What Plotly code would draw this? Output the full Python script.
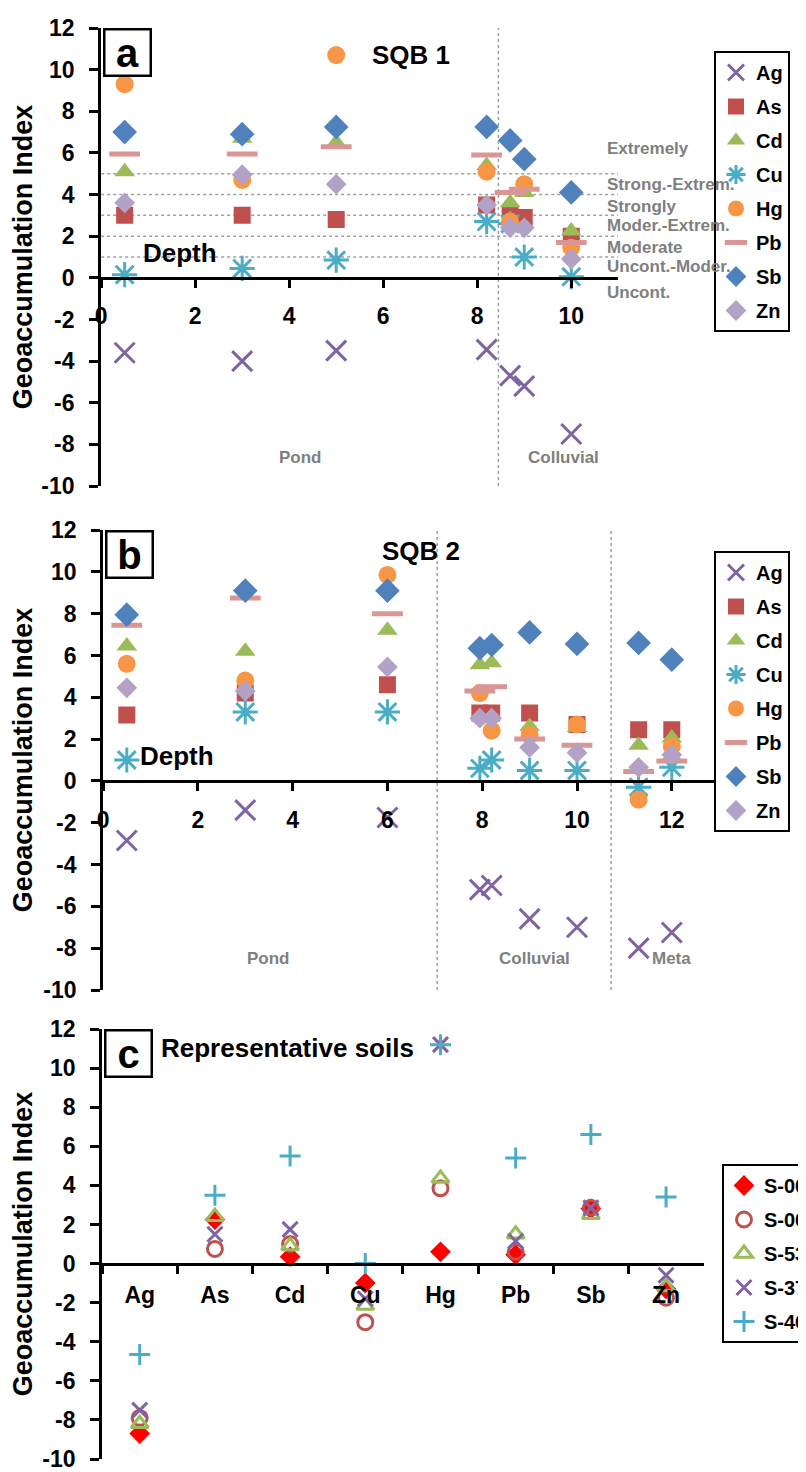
import plotly.graph_objects as go

W, H = 806, 1472
FONT = "Liberation Sans, Arial, sans-serif"

# ---------------- data ----------------
elements = ["Ag", "As", "Cd", "Cu", "Hg", "Pb", "Sb", "Zn"]

# Panel a: SQB 1
depth_a = [0.5, 3, 5, 8.2, 8.7, 9.0, 10]
ag_a = [-3.6, -4.0, -3.5, -3.45, -4.7, -5.2, -7.5]
as_a = [3.0, 3.0, 2.8, 3.5, 3.1, 2.9, 2.0]
cd_a = [5.1, 6.7, 6.5, 5.4, 3.6, 4.1, 2.25]
cu_a = [0.15, 0.45, 0.85, 2.7, 2.6, 1.0, 0.05]
hg_a = [9.3, 4.7, 10.7, 5.1, 2.7, 4.5, 1.45]
pb_a = [5.95, 5.95, 6.3, 5.9, 4.1, 4.25, 1.7]
sb_a = [7.0, 6.9, 7.25, 7.25, 6.6, 5.7, 4.1]
zn_a = [3.6, 4.95, 4.5, 3.5, 2.4, 2.4, 0.9]

# Panel b: SQB 2
depth_b = [0.5, 3, 6, 7.95, 8.2, 9, 10, 11.3, 12]
ag_b = [-2.85, -1.4, -1.75, -5.2, -5.0, -6.6, -7.0, -8.0, -7.25]
as_b = [3.15, 4.2, 4.6, 3.25, 3.25, 3.25, 2.7, 2.45, 2.45]
cd_b = [6.45, 6.2, 7.2, 5.55, 5.65, 2.6, 2.55, 1.7, 2.05]
cu_b = [1.0, 3.3, 3.3, 0.6, 1.0, 0.5, 0.5, -0.3, 0.65]
hg_b = [5.6, 4.8, 9.85, 4.2, 2.4, 2.2, 2.7, -0.9, 1.65]
pb_b = [7.45, 8.75, 8.0, 4.3, 4.5, 2.0, 1.7, 0.45, 0.95]
sb_b = [7.95, 9.1, 9.1, 6.35, 6.5, 7.1, 6.55, 6.6, 5.8]
zn_b = [4.45, 4.3, 5.45, 3.0, 3.0, 1.6, 1.35, 0.65, 1.25]

# Panel c: representative soils
soil_names = ["S-00", "S-06", "S-53", "S-37", "S-46"]
s00 = [-8.7, 2.25, 0.35, -1.0, 0.6, 0.45, 2.8, -1.3]
s06 = [-7.9, 0.75, 1.0, -3.0, 3.85, 0.6, 2.85, -1.75]
s53 = [-8.2, 2.4, 0.9, -2.15, 4.35, 1.5, 2.5, -1.2]
s37 = [-7.5, 1.5, 1.75, -1.8, 11.2, 1.15, 2.85, -0.6]
s46 = [-4.65, 3.5, 5.5, 0.0, 11.2, 5.4, 6.6, 3.4]

# Igeo classes (panel a)
class_labels = ["Extremely", "Strong.-Extrem.", "Strongly", "Moder.-Extrem.",
                "Moderate", "Uncont.-Moder.", "Uncont."]
class_label_y = [6.2, 4.5, 3.45, 2.5, 1.45, 0.55, -0.7]
class_bounds = [1, 2, 3, 4, 5]

y_ticks = list(range(-10, 13, 2))
y_ticktext = [str(v) for v in y_ticks]

# ---------------- styles ----------------
elem_style = {
    "Ag": dict(symbol="x-thin-open", size=20, color="#8064A2", line=dict(width=3, color="#8064A2")),
    "As": dict(symbol="square", size=17, color="#C0504D", line=dict(width=0)),
    "Cd": dict(symbol="triangle-up", size=18, color="#9BBB59", line=dict(width=0)),
    "Cu": dict(symbol="asterisk-open", size=21, color="#4BACC6", line=dict(width=3, color="#4BACC6")),
    "Hg": dict(symbol="circle", size=18, color="#F79646", line=dict(width=0)),
    "Pb": dict(symbol="line-ew-open", size=22, color="#DA9694", line=dict(width=5, color="#DA9694")),
    "Sb": dict(symbol="diamond", size=19, color="#4F81BD", line=dict(width=0)),
    "Zn": dict(symbol="diamond", size=16, color="#B3A2C7", line=dict(width=0)),
}
soil_style = {
    "S-00": dict(symbol="diamond", size=16, color="#FF0000", line=dict(width=0)),
    "S-06": dict(symbol="circle-open", size=15, color="#C0504D", line=dict(width=3, color="#C0504D")),
    "S-53": dict(symbol="triangle-up-open", size=15, color="#9BBB59", line=dict(width=3, color="#9BBB59")),
    "S-37": dict(symbol="x-thin-open", size=15, color="#8064A2", line=dict(width=3, color="#8064A2")),
    "S-46": dict(symbol="cross-thin-open", size=15, color="#4BACC6", line=dict(width=3, color="#4BACC6")),
}

def xdom(p0, p1):
    return [p0 / W, p1 / W]

def ydom(top, bottom):
    return [1 - bottom / H, 1 - top / H]

dom = {
    "a": (xdom(96, 629), ydom(20, 478)),
    "b": (xdom(98, 733), ydom(522, 982)),
    "c": (xdom(97, 717), ydom(1021, 1451)),
}

def zero_pos(yd):
    return yd[0] + (0 - (-10)) / 22 * (yd[1] - yd[0])

fig = go.Figure()

def add_panel(xs, series, xa, ya, legend):
    for name, ys in zip(elements, series):
        st = elem_style[name]
        fig.add_trace(go.Scatter(
            x=xs, y=ys, mode="markers", name=name, legend=legend,
            legendgroup=legend + name, xaxis=xa, yaxis=ya,
            marker=dict(symbol=st["symbol"], size=st["size"], color=st["color"], line=st["line"]),
            showlegend=True,
        ))

add_panel(depth_a, [ag_a, as_a, cd_a, cu_a, hg_a, pb_a, sb_a, zn_a], "x", "y", "legend")
add_panel(depth_b, [ag_b, as_b, cd_b, cu_b, hg_b, pb_b, sb_b, zn_b], "x2", "y2", "legend2")

for name, ys in zip(soil_names, [s00, s06, s53, s37, s46]):
    st = soil_style[name]
    fig.add_trace(go.Scatter(
        x=elements, y=ys, mode="markers", name=name, legend="legend3",
        legendgroup="c" + name, xaxis="x3", yaxis="y3",
        marker=dict(symbol=st["symbol"], size=st["size"], color=st["color"], line=st["line"]),
    ))

tickfont = dict(family=FONT, size=23, color="black", weight="bold")

def yaxis_cfg(key):
    xd, yd = dom[key]
    return dict(
        domain=yd, range=[-10, 12], tickvals=y_ticks, ticktext=y_ticktext,
        ticks="outside", ticklen=9, tickwidth=3, tickcolor="black",
        showline=True, linewidth=3, linecolor="black", showgrid=False, zeroline=False,
        tickfont=tickfont, ticklabelstandoff=10,
        title=dict(text="Geoaccumulation Index", standoff=3,
                   font=dict(family=FONT, size=27, color="black", weight="bold")),
        automargin=False,
    )

def xaxis_num(key, rng):
    xd, yd = dom[key]
    return dict(
        domain=xd, range=rng, tick0=0, dtick=2, anchor="free", position=zero_pos(yd),
        ticks="outside", ticklen=8, tickwidth=3, tickcolor="black",
        showline=True, linewidth=3, linecolor="black", showgrid=False, zeroline=False,
        tickfont=tickfont, ticklabelstandoff=9, automargin=False,
    )

xd_c, yd_c = dom["c"]
layout = dict(
    width=W, height=H, margin=dict(l=0, r=0, t=0, b=0),
    paper_bgcolor="white", plot_bgcolor="white",
    font=dict(family=FONT, color="black"),
    xaxis=xaxis_num("a", [0, 11]),
    yaxis=dict(**yaxis_cfg("a"), anchor="x"),
    xaxis2=xaxis_num("b", [0, 13]),
    yaxis2=dict(**yaxis_cfg("b"), anchor="x2"),
    xaxis3=dict(
        domain=xd_c, type="category", categoryorder="array", categoryarray=elements,
        range=[-0.5, 7.5], tickson="boundaries", anchor="free", position=zero_pos(yd_c),
        ticks="outside", ticklen=8, tickwidth=3, tickcolor="black",
        showline=True, linewidth=3, linecolor="black", showgrid=False, zeroline=False,
        tickfont=dict(family=FONT, size=23, color="black", weight="bold"),
        ticklabelstandoff=10, automargin=False,
    ),
    yaxis3=dict(**yaxis_cfg("c"), anchor="x3"),
    showlegend=True,
)

leg_common = dict(
    bgcolor="white", bordercolor="black", borderwidth=2,
    font=dict(family=FONT, size=20, color="black", weight="bold"),
    traceorder="grouped", tracegroupgap=5, itemclick=False,
    yanchor="top",
)
layout["legend"] = dict(**leg_common, x=1.0, xanchor="right", y=1 - 43 / H)
layout["legend2"] = dict(**leg_common, x=1.0, xanchor="right", y=1 - 543 / H)
layout["legend3"] = dict(**leg_common, x=736 / W, xanchor="left", y=1 - 1156 / H)

fig.update_layout(**layout)

# ---------------- shapes: dotted class lines & zone separators ----------------
dot_line = dict(color="#A0A0A0", width=1.5, dash="dot")
for b in class_bounds:
    fig.add_shape(type="line", xref="x", yref="y", x0=0, x1=11, y0=b, y1=b, line=dot_line, layer="below")
fig.add_shape(type="line", xref="x", yref="y", x0=8.45, x1=8.45, y0=-10, y1=12, line=dot_line, layer="below")
for xv in [7.05, 10.72]:
    fig.add_shape(type="line", xref="x2", yref="y2", x0=xv, x1=xv, y0=-10, y1=12, line=dot_line, layer="below")

# ---------------- annotations ----------------
gray_font = dict(family=FONT, size=17, color="#7F7F7F", weight="bold")
big_font = dict(family=FONT, size=26, color="black", weight="bold")
anns = []
for lab, yv in zip(class_labels, class_label_y):
    anns.append(dict(xref="x", yref="y", x=10.72, y=yv, text=lab, showarrow=False,
                     xanchor="left", yanchor="middle", font=gray_font))
anns += [
    dict(xref="x", yref="y", x=4.25, y=-8.65, text="Pond", showarrow=False, font=gray_font),
    dict(xref="x", yref="y", x=9.84, y=-8.65, text="Colluvial", showarrow=False, font=gray_font),
    dict(xref="x2", yref="y2", x=3.5, y=-8.5, text="Pond", showarrow=False, font=gray_font),
    dict(xref="x2", yref="y2", x=9.1, y=-8.5, text="Colluvial", showarrow=False, font=gray_font),
    dict(xref="x2", yref="y2", x=12.0, y=-8.5, text="Meta", showarrow=False, font=gray_font),
    dict(xref="x", yref="y", x=1.67, y=1.2, text="Depth", showarrow=False, font=big_font),
    dict(xref="x2", yref="y2", x=1.55, y=1.2, text="Depth", showarrow=False, font=big_font),
    dict(xref="x", yref="y", x=5.72, y=10.7, text="SQB 1", showarrow=False, xanchor="left", font=big_font),
    dict(xref="x2", yref="y2", x=5.85, y=11.0, text="SQB 2", showarrow=False, xanchor="left", font=big_font),
    dict(xref="x3", yref="y3", x=0.25, y=11.05, text="Representative soils", showarrow=False,
         xanchor="left", font=big_font),
]
for letter, xr, yr in [("a", "x domain", "y domain"), ("b", "x2 domain", "y2 domain"), ("c", "x3 domain", "y3 domain")]:
    anns.append(dict(xref=xr, yref=yr, x=0.003, y=1.0, xanchor="left", yanchor="top",
                     text=letter, showarrow=False, width=42, height=42, borderpad=1,
                     bordercolor="black", borderwidth=2.5, bgcolor="white",
                     font=dict(family=FONT, size=40, color="black", weight="bold")))
fig.update_layout(annotations=anns)

fig.write_html("out.html")
